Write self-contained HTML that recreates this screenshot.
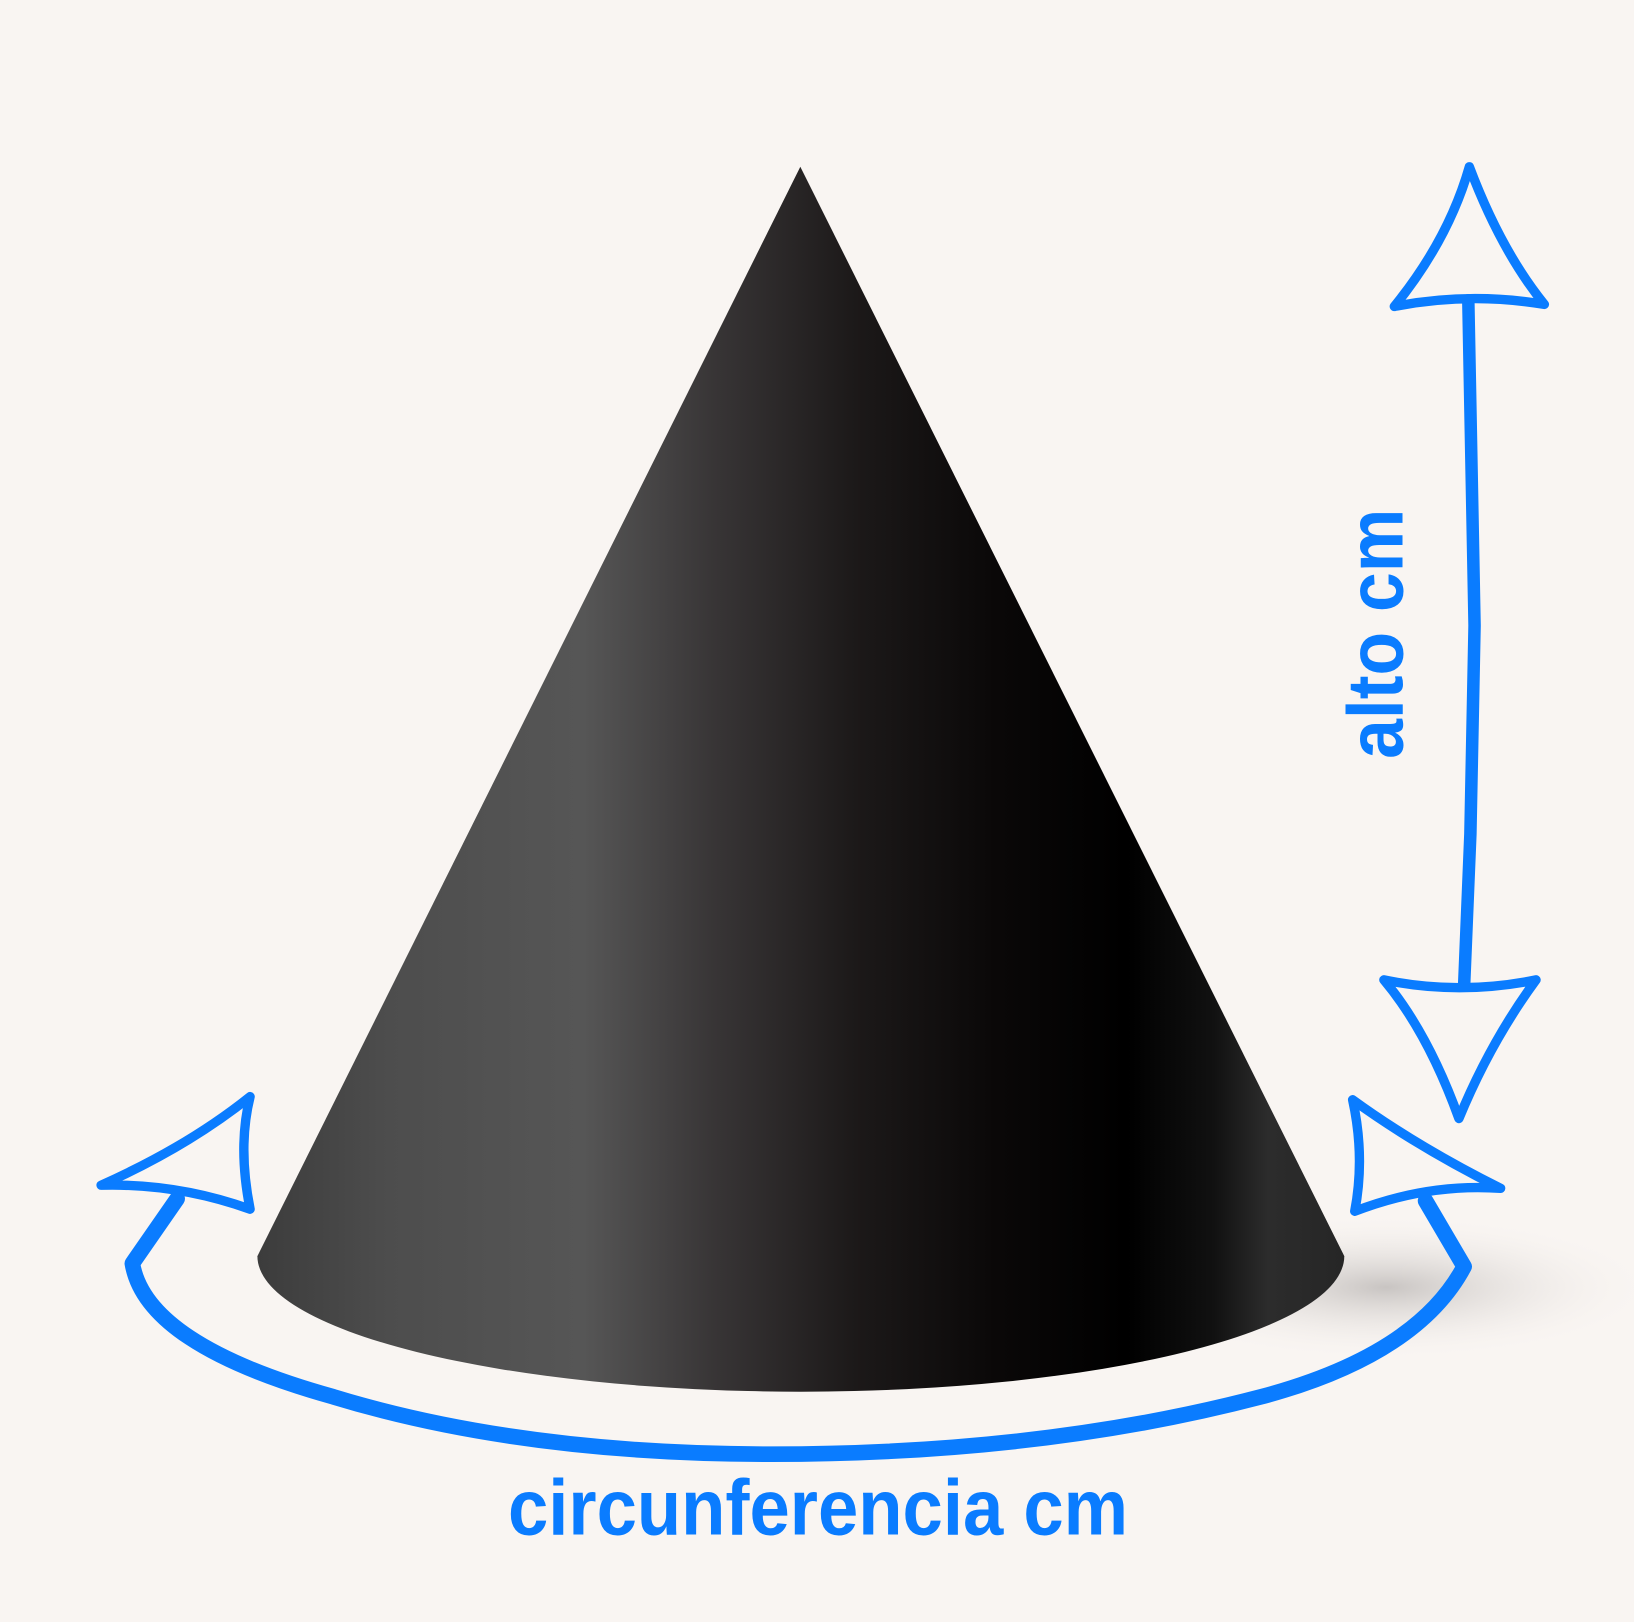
<!DOCTYPE html>
<html><head><meta charset="utf-8">
<style>
html,body{margin:0;padding:0;background:#f9f5f2;}
svg{display:block;}
</style></head>
<body>
<svg width="1634" height="1622" viewBox="0 0 1568 1556" preserveAspectRatio="none" xmlns="http://www.w3.org/2000/svg">
<defs>
<linearGradient id="cg" x1="247" y1="0" x2="1290" y2="0" gradientUnits="userSpaceOnUse">
<stop offset="0" stop-color="#3c3c3c"/>
<stop offset="0.12" stop-color="#4d4d4d"/>
<stop offset="0.3" stop-color="#565656"/>
<stop offset="0.42" stop-color="#383536"/>
<stop offset="0.55" stop-color="#1c1919"/>
<stop offset="0.68" stop-color="#0a0808"/>
<stop offset="0.8" stop-color="#000"/>
<stop offset="0.88" stop-color="#111"/>
<stop offset="0.93" stop-color="#2c2c2c"/>
<stop offset="1" stop-color="#262626"/>
</linearGradient>
<radialGradient id="sh" cx="0.5" cy="0.5" r="0.5">
<stop offset="0" stop-color="#bcb8b6" stop-opacity="0.8"/>
<stop offset="1" stop-color="#f9f5f2" stop-opacity="0"/>
</radialGradient>
</defs>
<rect x="0" y="0" width="1568" height="1556" fill="#f9f5f2"/>
<ellipse cx="1330" cy="1235" rx="260" ry="70" fill="url(#sh)"/>
<path d="M768,160 L1290,1205 A521,130 0 0 1 247,1205 Z" fill="url(#cg)"/>
<g fill="none" stroke="#0a7cff" stroke-width="12" stroke-linecap="round" stroke-linejoin="round">
<path d="M1409,288 L1415,600 L1411,800 L1405,945"/>
<path d="M1410,160 Q1440,240 1482,292 Q1410,280 1338,294 Q1390,230 1410,160 Z" stroke-width="9"/>
<path d="M1400,1073 Q1430,1000 1474,940 Q1400,955 1328,940 Q1370,990 1400,1073 Z" stroke-width="9"/>
</g>
<g fill="none" stroke="#0a7cff" stroke-width="15" stroke-linecap="round" stroke-linejoin="round">
<path d="M170,1150 L127,1212 Q140,1290 320,1340 Q500,1395 740,1395 Q1000,1395 1210,1340 Q1360,1300 1405,1215 L1368,1152"/>
<path d="M97,1137 Q180,1100 240,1052 Q228,1100 240,1160 Q170,1135 97,1137 Z" stroke-width="9"/>
<path d="M1440,1140 Q1360,1100 1298,1055 Q1310,1110 1300,1162 Q1370,1135 1440,1140 Z" stroke-width="9"/>
</g>
<text x="785" y="1472" text-anchor="middle" font-family="'Liberation Sans', sans-serif" font-weight="bold" font-size="76" fill="#0a7cff" textLength="595" lengthAdjust="spacingAndGlyphs">circunferencia cm</text>
<text transform="translate(1346,608) rotate(-90)" text-anchor="middle" font-family="'Liberation Sans', sans-serif" font-weight="bold" font-size="76" fill="#0a7cff" textLength="240" lengthAdjust="spacingAndGlyphs">alto cm</text>
</svg>
</body></html>
